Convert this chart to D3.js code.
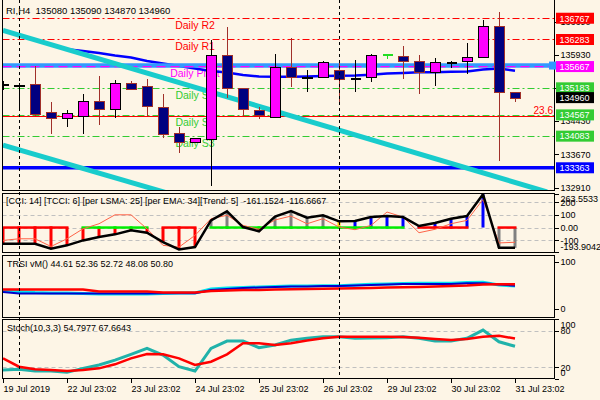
<!DOCTYPE html>
<html><head><meta charset="utf-8">
<script src="https://cdn.jsdelivr.net/npm/d3@7/dist/d3.min.js"></script>
<style>
html,body{margin:0;padding:0;background:#FDF5E6;}
svg{display:block;font-family:"Liberation Sans",Arial,sans-serif;}
text{white-space:pre;}
</style></head><body>
<svg id="c" width="600" height="400"></svg>
<script>
// ---------------- DATA ----------------
const symbol = "RI,H4";
const barIndex = d3.range(33);
const open  = [135265,135218,135263,134626,134489,134548,134883,134694,135293,135218,134753,134148,133943,134011,135930,135172,134678,134512,135650,135400,135436,135582,135400,135422,135953,135900,135787,135536,135771,135787,135878,136597,135080];
const high  = [135330,135300,135680,134860,134678,135042,135452,135361,135345,135384,135042,134284,134041,136271,136560,135172,134753,135953,136310,135589,135793,135778,135816,135960,135953,136135,135930,135855,135793,136203,136720,136916,135090];
const low   = [135140,134680,134542,134139,134298,134132,134344,134503,135149,134542,134034,133693,133943,132955,134945,134542,134473,134512,135208,135095,135436,134867,135095,135322,135846,135377,135036,135231,135627,135491,135878,133524,134870];
const close = [135265,135254,134594,134489,134603,134883,134694,135293,135149,134762,134125,133943,134041,135930,135172,134694,134558,135664,135436,135436,135764,135377,135400,135923,135953,135787,135536,135764,135771,135884,136583,135081,134960];

const maStart = 4;
const maValues = [136060,136021,135976,135919,135873,135793,135737,135680,135623,135566,135532,135475,135441,135436,135436,135441,135452,135459,135463,135479,135509,135520,135536,135536,135548,135554,135600,135623,135573];

const levelNames  = ["Daily R2","Daily R1","Daily Pivot","Daily S1","Daily S2","Daily S3"];
const levelPrices = [136767,136283,135667,135183,134567,134083];
const levelKinds  = ["R","R","P","S","S","S"];
const bandPrice = 135690;
const supportPrice = 133363;
const fibPrice = 134535;
const fibLabel = "23.6";
const channelUpper = [[0,136492],[34,132814]];
const channelLower = [[0,133880],[34,130266]];
const priceTicks = [136690,135930,135180,134430,133670,132910];
const separators = [1,21];

const xTickBars = [0,4,8,12,16,20,24,28,32];
const xLabels = ["19 Jul 2019","22 Jul 23:02","23 Jul 23:02","24 Jul 23:02","25 Jul 23:02","26 Jul 23:02","29 Jul 23:02","30 Jul 23:02","31 Jul 23:02"];

const cciTitle = "[CCI: 14] [TCCI: 6] [per LSMA: 25] [per EMA: 34][Trend: 5]  -161.1524 -116.6667";
const cciMin = -193.9042, cciMax = 263.5533;
const cci  = [-128,-128,-128,-168,-141,-102,-75,-54,-22,-41,-115,-173,-155,57,128,4,-30,87,131,78,97,49,52,83,91,83,12,36,70,91,263.5533,-161.1524,-161.1524];
const tcci = [-102,-89,-89,-150,-89,-10,30,101,101,-10,-141,-155,-62,70,97,17,-14,60,91,30,70,4,-17,17,123,83,-41,-14,30,57,223,-122,-116.6667];
const histState  = ["r","r","r","r","r","r","r","r","r","r","r","r","r","g","g","g","r","g","g","g","g","y","b","b","b","b","b","b","b","b","b","g","g"];
const trendState = ["dn","dn","dn","dn","dn","up","up","up","up","up","dn","dn","dn","up","up","up","up","up","up","up","up","up","up","up","up","up","dn","dn","dn","dn",null,"dn","dn"];
const cciTicks = [200,100,0,-100];
const cciTickLabels = ["200","100","0.00","-100"];

const trsiTitle = "TRSI vM() 44.61 52.36 52.72 48.08 50.80";
const trsiCyan = [38.3,37.2,35.1,34,34,33,31.9,31.9,31.9,31.9,33,34,34,42.6,44.7,45.7,46.8,47.9,48.9,48.9,49.6,49.6,51.1,52.6,53.2,54.3,54.7,54.7,54.7,56.4,56.8,51.1,48.9];
const trsiRed  = [41.5,41.5,41.5,41.5,41.5,41.5,37.2,37.2,37.2,37.2,35.1,35.1,35.1,38.3,39.4,40.4,40.4,41.5,41.9,42.6,43.2,43.6,44,44.7,45.7,46.2,46.8,47.9,48.9,50,52.1,52.6,52.6];
const trsiBlue = [36.2,33,33,33,33,33,33,33,33,33,33.4,33.4,33.4,40.4,42.6,44.7,45.7,46.8,47.9,47.9,48.9,48.9,50,51.1,52.1,53.2,53.2,53.2,53.2,54.7,54.7,52.1,49.6];

const stochTitle = "Stoch(10,3,3) 54.7977 67.6643";
const stochK = [15.5,16.7,13.9,13.9,11.7,18.3,23.8,32,41.5,51.4,40.3,21,13.9,51.4,63.5,63.5,52.4,56.9,65,68,70.6,70.6,68,68.4,69,70.6,68,63.5,63.5,68,81.7,62.3,54.7977];
const stochD = [34.9,21,16.7,15.5,13.9,15.5,18.3,25,34.9,42,41.5,34.9,23.8,29.3,41.5,59.7,59.7,56.9,59.7,64.3,68,70.6,70.6,70.6,70.6,70,69,66.8,65.1,66.8,70.6,72.2,67.6643];

// ---------------- LAYOUT / STYLE ----------------
const BG = "#FDF5E6";
const LX = 2.5, RX = 554.5;
const P = {
  main:  {top: 0,     bottom: 190.5},
  cci:   {top: 193.5, bottom: 252.5},
  trsi:  {top: 255.5, bottom: 317.5},
  stoch: {top: 319.5, bottom: 378.5}
};
const svg = d3.select("#c");
svg.append("rect").attr("width",600).attr("height",400).attr("fill",BG);
const defs = svg.append("defs");
Object.entries(P).forEach(([k,p]) => {
  defs.append("clipPath").attr("id","clip-"+k).append("rect")
    .attr("x",LX+0.5).attr("y",p.top+0.5).attr("width",RX-LX-1).attr("height",p.bottom-p.top-1);
});

const x = d3.scaleLinear().domain([0,32]).range([3,515]);
const yP = d3.scaleLinear().domain([132846,137182]).range([190.5,0]);
const yC = d3.scaleLinear().domain([cciMin,cciMax]).range([252,194.3]);
const yT = d3.scaleLinear().domain([0,100]).range([309,262]);
const yS = d3.scaleLinear().domain([0,100]).range([379.4,319]);

const FONT = 9;
function label(g, tx, ty, str, opts={}) {
  return g.append("text").attr("x",tx).attr("y",ty).text(str)
    .attr("font-size",opts.size||FONT).attr("fill",opts.fill||"#000")
    .attr("text-anchor",opts.anchor||"start");
}

// ---------------- MAIN PANEL ----------------
const gMain = svg.append("g").attr("clip-path","url(#clip-main)");
const colR = "#FF0000", colS = "#33CC33", colP = "#FF00FF";
const kindColor = k => k==="R" ? colR : k==="S" ? colS : colP;

// level lines
levelPrices.forEach((p,i) => {
  const k = levelKinds[i];
  if (k === "P") return;
  gMain.append("line").attr("x1",LX).attr("x2",RX).attr("y1",Math.round(yP(p))+0.5).attr("y2",Math.round(yP(p))+0.5)
    .attr("stroke",kindColor(k)).attr("stroke-width",1.2).attr("stroke-dasharray","7,3,2,3");
});
// fib line
gMain.append("line").attr("x1",LX).attr("x2",RX).attr("y1",Math.round(yP(fibPrice))+0.5).attr("y2",Math.round(yP(fibPrice))+0.5)
  .attr("stroke","#FF0000").attr("stroke-width",1);
// level names
levelPrices.forEach((p,i) => {
  label(gMain, x(12), yP(p)+10.8, levelNames[i], {size:10.5, fill:kindColor(levelKinds[i]), anchor:"middle"});
});
// moving average
const maLine = d3.line().x((d,i)=>x(maStart+i)).y(d=>yP(d));
gMain.append("path").attr("d",maLine(maValues)).attr("fill","none").attr("stroke","#0000FF").attr("stroke-width",2.5);
// band + pivot dashes
gMain.append("line").attr("x1",LX).attr("x2",RX).attr("y1",yP(bandPrice)).attr("y2",yP(bandPrice))
  .attr("stroke","#3399FF").attr("stroke-width",4.5);
gMain.append("line").attr("x1",LX).attr("x2",RX).attr("y1",yP(levelPrices[2])).attr("y2",yP(levelPrices[2]))
  .attr("stroke",colP).attr("stroke-width",1.3).attr("stroke-dasharray","9,5");
// support
gMain.append("line").attr("x1",LX).attr("x2",RX).attr("y1",yP(supportPrice)).attr("y2",yP(supportPrice))
  .attr("stroke","#0000FF").attr("stroke-width",3.5);
// channel
const chLine = d3.line().x(d=>x(d[0])).y(d=>yP(d[1]));
[channelUpper, channelLower].forEach(ch => {
  gMain.append("path").attr("d",chLine(ch)).attr("fill","none").attr("stroke","#19CCCC").attr("stroke-width",5);
});
// candles
const bearEdge = "#A0302A";
const gCandle = gMain.append("g").attr("shape-rendering","crispEdges");
barIndex.forEach(i => {
  const o=open[i], c=close[i], h=high[i], l=low[i];
  const cx = Math.round(x(i)) + 0.5;
  const doji = o === c, bull = c > o;
  const col = doji ? (h === o ? "#22DD22" : "#000") : bull ? "#000" : bearEdge;
  gCandle.append("line").attr("x1",cx).attr("x2",cx).attr("y1",yP(h)).attr("y2",yP(l)).attr("stroke",col);
  if (doji) {
    gCandle.append("line").attr("x1",cx-5).attr("x2",cx+5).attr("y1",Math.round(yP(o))+0.5).attr("y2",Math.round(yP(o))+0.5)
      .attr("stroke",col).attr("stroke-width",2);
  } else {
    const yt = Math.round(yP(Math.max(o,c)))+0.5, yb = Math.round(yP(Math.min(o,c)))+0.5;
    gCandle.append("rect").attr("x",cx-5).attr("y",yt).attr("width",10).attr("height",Math.max(1,yb-yt))
      .attr("fill",bull?"#FF00FF":"#000080").attr("stroke",col);
  }
});
label(gMain, 553, yP(fibPrice)-2, fibLabel, {size:10, fill:"#FF0000", anchor:"end"});
label(svg, 6, 13.5, `${symbol}  ${open[32]} ${high[32]} ${low[32]} ${close[32]}`, {size:9.5});

// main borders
svg.append("path").attr("d",`M${LX},0V${P.main.bottom}H${RX}V0`).attr("fill","none").attr("stroke","#000").attr("shape-rendering","crispEdges");

// price axis
function styleAxis(g){
  g.select(".domain").remove();
  g.attr("font-family",null).attr("font-size",FONT);
  g.selectAll(".tick line").attr("stroke","#000");
  g.selectAll(".tick text").attr("fill","#000");
}
const gPA = svg.append("g").attr("transform",`translate(${RX},0)`).attr("shape-rendering","crispEdges")
  .call(d3.axisRight(yP).tickValues(priceTicks).tickSize(4).tickPadding(2).tickFormat(d3.format("d")));
styleAxis(gPA);

// price boxes
function priceBox(p, fill, txt) {
  const yy = yP(p);
  svg.append("rect").attr("x",556).attr("y",yy-5.5).attr("width",38).attr("height",11).attr("fill",fill);
  label(svg, 559.5, yy+3.3, txt, {fill:"#FFF"});
}
svg.append("rect").attr("x",549).attr("y",yP(bandPrice)-4).attr("width",8).attr("height",8).attr("fill","#3399FF");
levelPrices.forEach((p,i) => priceBox(p, kindColor(levelKinds[i]), String(p)));
priceBox(close[32], "#000", String(close[32]));
priceBox(supportPrice, "#0000FF", String(supportPrice));

// ---------------- SUB PANELS ----------------
function panelFrame(p){
  svg.append("rect").attr("x",LX).attr("y",p.top).attr("width",RX-LX).attr("height",p.bottom-p.top)
    .attr("fill","none").attr("stroke","#000").attr("shape-rendering","crispEdges");
}
function grid(g, scale, vals){
  vals.forEach(v => g.append("line").attr("x1",LX).attr("x2",RX)
    .attr("y1",Math.round(scale(v))+0.5).attr("y2",Math.round(scale(v))+0.5)
    .attr("stroke","#C0C0C0").attr("stroke-dasharray","4,3"));
}
function sideAxis(scale, vals, labels, p){
  const g = svg.append("g").attr("transform",`translate(${RX},0)`).attr("shape-rendering","crispEdges")
    .call(d3.axisRight(scale).tickValues(vals).tickSize(4).tickPadding(2).tickFormat((d,i)=>labels[i]));
  styleAxis(g);
  g.selectAll(".tick text").attr("y", d => {
    const pos = scale(d); const c = Math.max(p.top+5.5, Math.min(p.bottom-5.5, pos)); return c - pos;
  });
}

// CCI
const gCCI = svg.append("g").attr("clip-path","url(#clip-cci)");
grid(gCCI, yC, cciTicks);
label(gCCI, 6, 203.5, cciTitle);
const histColor = {r:"#FF0000", g:"#808080", b:"#0000FF", y:"#FFCC00"};
barIndex.forEach(i => {
  gCCI.append("line").attr("x1",x(i)).attr("x2",x(i)).attr("y1",yC(0)).attr("y2",yC(cci[i]))
    .attr("stroke",histColor[histState[i]]).attr("stroke-width",3);
});
barIndex.slice(0,-1).forEach(i => {
  const s = trendState[i];
  if (s && s === trendState[i+1]) {
    gCCI.append("line").attr("x1",x(i)-1.5).attr("x2",x(i+1)+1.5).attr("y1",yC(0)).attr("y2",yC(0))
      .attr("stroke", s==="up" ? "#00EE00" : "#FF0000").attr("stroke-width",2.5);
  }
});
const lnC = sc => d3.line().x((d,i)=>x(i)).y(d=>sc(d));
gCCI.append("path").attr("d",lnC(yC)(tcci)).attr("fill","none").attr("stroke","#FF6347").attr("stroke-width",1);
gCCI.append("path").attr("d",lnC(yC)(cci)).attr("fill","none").attr("stroke","#000").attr("stroke-width",2.5);
panelFrame(P.cci);
sideAxis(yC, [cciMax, ...cciTicks, cciMin], ["263.5533", ...cciTickLabels, "-193.9042"], P.cci);

// TRSI
const gT = svg.append("g").attr("clip-path","url(#clip-trsi)");
label(gT, 7, 266.5, trsiTitle);
gT.append("path").attr("d",lnC(yT)(trsiCyan)).attr("fill","none").attr("stroke","#00E5EE").attr("stroke-width",3);
gT.append("path").attr("d",lnC(yT)(trsiBlue)).attr("fill","none").attr("stroke","#0000CC").attr("stroke-width",2);
gT.append("path").attr("d",lnC(yT)(trsiRed)).attr("fill","none").attr("stroke","#FF0000").attr("stroke-width",2.5);
panelFrame(P.trsi);
sideAxis(yT, [100,0], ["100","0"], P.trsi);

// Stoch
const gS = svg.append("g").attr("clip-path","url(#clip-stoch)");
grid(gS, yS, [80,20]);
label(gS, 7, 331, stochTitle);
gS.append("path").attr("d",lnC(yS)(stochK)).attr("fill","none").attr("stroke","#20B2AA").attr("stroke-width",3);
gS.append("path").attr("d",lnC(yS)(stochD)).attr("fill","none").attr("stroke","#FF0000").attr("stroke-width",2.5);
panelFrame(P.stoch);
sideAxis(yS, [100,80,20,0], ["100","80","20","0"], P.stoch);

// separators
separators.forEach(i => {
  svg.append("line").attr("x1",Math.round(x(i))+0.5).attr("x2",Math.round(x(i))+0.5).attr("y1",0).attr("y2",P.stoch.bottom)
    .attr("stroke","#000").attr("stroke-dasharray","3,3").attr("shape-rendering","crispEdges");
});

// x axis
const gX = svg.append("g").attr("transform",`translate(0,${P.stoch.bottom})`).attr("shape-rendering","crispEdges")
  .call(d3.axisBottom(x).tickValues(xTickBars).tickSize(4).tickPadding(3).tickFormat((d,i)=>xLabels[i]));
styleAxis(gX);
gX.selectAll(".tick text").attr("text-anchor","start").attr("x",0);
</script>
</body></html>
